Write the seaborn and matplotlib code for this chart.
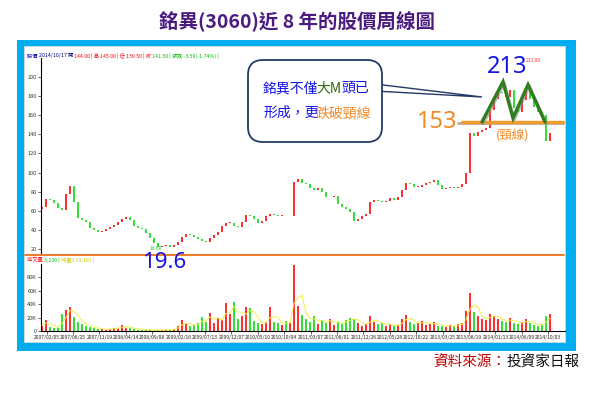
import matplotlib
matplotlib.use("Agg")
import matplotlib.pyplot as plt
import seaborn as sns
import numpy as np
import pandas as pd
from matplotlib.patches import Rectangle, FancyBboxPatch, Polygon

# ---------------- data (each point ~3 weeks) ----------------
closes = [64, 72, 71, 68, 63, 61, 78, 86, 69, 52, 50, 48, 42, 40, 38, 39, 41, 43, 45, 48,
          51, 53, 50, 44, 42, 41, 37, 31, 26, 22, 23, 24, 22, 24, 27, 32, 36, 35, 33, 30,
          28, 27, 31, 35, 38, 44, 47, 47, 44, 43, 48, 56, 54, 51, 47, 49, 54, 57, 56, 55,
          55, 54, 55, 90, 93, 89, 88, 84, 82, 84, 80, 74, 74, 75, 67, 64, 62, 59, 49, 51,
          54, 57, 69, 71, 70, 69, 70, 73, 71, 74, 82, 89, 88, 85, 85, 87, 89, 90, 92, 87,
          83, 84, 85, 84, 85, 88, 100, 141, 138, 142, 144, 147, 165, 177, 184, 183, 179, 186, 168, 163,
          176, 187, 177, 169, 163, 160, 133, 141.5]
first_open = 62
volumes_k = [8, 16, 6, 5, 4, 25, 31, 36, 21, 14, 10, 7, 6, 4, 3, 3, 2, 3, 5, 4,
             9, 5, 4, 3, 2, 2, 2, 1, 1, 2, 1, 2, 2, 3, 8, 16, 10, 7, 9, 12,
             21, 14, 27, 12, 20, 16, 42, 25, 43, 18, 22, 36, 34, 15, 12, 10, 14, 36, 14, 12,
             9, 15, 12, 98, 38, 24, 18, 14, 22, 10, 16, 12, 18, 9, 14, 11, 16, 20, 18, 12,
             8, 10, 22, 14, 10, 12, 8, 10, 7, 9, 18, 24, 14, 10, 12, 15, 9, 11, 13, 8,
             7, 6, 9, 7, 10, 12, 30, 57, 28, 22, 18, 16, 26, 22, 18, 15, 14, 20, 12, 10,
             14, 18, 12, 9, 8, 10, 22, 26]
date_labels = ["2007/02/05", "2007/06/25", "2007/11/19", "2008/04/14", "2008/09/08",
               "2009/02/16", "2009/07/13", "2009/12/07", "2010/05/10", "2010/10/04",
               "2011/03/07", "2011/08/01", "2011/12/26", "2012/05/28", "2012/10/22",
               "2013/03/25", "2013/08/19", "2014/01/13", "2014/06/09", "2014/10/03"]
price_ticks = [200, 180, 160, 140, 120, 100, 80, 60, 40, 20]
vol_ticks = [0, 20, 40, 60, 80]
vol_tick_labels = ["0", "20K", "40K", "60K", "80K"]
neckline = 153
m_x = [110.0, 115.25, 117.75, 121.5, 125.75]
m_y = [153, 195, 157, 192, 153]
high_label = "213"
low_label = "19.6"

W, H = 600, 393
sns.set_theme(style="white")
plt.rcParams['font.family'] = ['Noto Sans CJK TC', 'DejaVu Sans']

fig = plt.figure(figsize=(W / 100, H / 100), dpi=100)
fig.patch.set_facecolor("white")
renderer = fig.canvas.get_renderer()

def fx(x):
    return x / W

def fy(y):
    return 1 - y / H

# background frame
bg = fig.add_axes([0, 0, 1, 1], zorder=0)
bg.set_xlim(0, W); bg.set_ylim(H, 0); bg.axis("off")
bg.add_patch(Rectangle((17, 40), 559, 311, facecolor="#00adef", edgecolor="none"))
bg.add_patch(Rectangle((24, 46), 541, 296, facecolor="white", edgecolor="#d8d8d8", lw=0.6))

n = len(closes)
idx = np.arange(n)
opens = [first_open] + closes[:-1]
up = [c >= o for o, c in zip(opens, closes)]
col_up, col_dn = "#ff3030", "#33e033"
colors = [col_up if u else col_dn for u in up]

x_left = (41 - 42) / 4
x_right = (565 - 42) / 4

# price axes
axp = fig.add_axes([fx(41), fy(254), fx(565) - fx(41), fy(58) - fy(254)], zorder=1)
axp.patch.set_alpha(0)
bodies = np.array(closes) - np.array(opens)
bodies = np.where(np.abs(bodies) < 0.8, 0.8, bodies)
axp.bar(idx, bodies, bottom=opens, width=0.45, color=colors, edgecolor="none")
axp.set_xlim(x_left, x_right)
axp.set_ylim(14.7, 219.9)
axp.set_yticks(price_ticks)
axp.set_yticklabels([str(t) for t in price_ticks], fontsize=4, color="#333333")
axp.set_xticks([])
for s in ["top", "right", "bottom"]:
    axp.spines[s].set_visible(False)
axp.spines["left"].set_color("black"); axp.spines["left"].set_linewidth(0.8)
axp.tick_params(axis="y", length=2, width=0.5, pad=1, left=True)

# M head and neckline (data coords)
axp.plot([m_x[0] - 6, x_right - 0.5], [neckline - 1.5, neckline - 1.5], color="#9a9a9a", lw=2.2, alpha=0.7, zorder=3)
axp.plot([m_x[0] - 5, x_right - 0.5], [neckline, neckline], color="#f39a2b", lw=2.4, zorder=4)
axp.plot(np.array(m_x) + 0.3, np.array(m_y) - 1.5, color="#8c8c8c", lw=2.4, alpha=0.6, zorder=4)
axp.plot(m_x, m_y, color="#2f7d1c", lw=2.4, zorder=5, solid_joinstyle="miter")

# volume axes
axv = fig.add_axes([fx(41), fy(331), fx(565) - fx(41), fy(264) - fy(331)], zorder=1)
axv.patch.set_alpha(0)
axv.bar(idx, volumes_k, width=0.55, color=colors, edgecolor="none")
vol_ma = pd.Series(volumes_k).rolling(3, min_periods=1).mean()
sns.lineplot(x=idx, y=vol_ma.values, ax=axv, color="#f0f040", lw=0.7, zorder=3)
axv.set_xlim(x_left, x_right)
axv.set_ylim(0, 100)
axv.set_yticks(vol_ticks)
axv.set_yticklabels(vol_tick_labels, fontsize=4, color="#333333")
tick_pos = [(46.6 + 26.4 * k - 42) / 4 for k in range(len(date_labels))]
axv.set_xticks(tick_pos)
axv.set_xticklabels(date_labels, fontsize=3.6, color="#222222")
for s in ["top", "right"]:
    axv.spines[s].set_visible(False)
for s in ["left", "bottom"]:
    axv.spines[s].set_color("black"); axv.spines[s].set_linewidth(0.8)
axv.tick_params(axis="both", length=2, width=0.5, pad=1, left=True, bottom=True)

# overlay for annotations
ov = fig.add_axes([0, 0, 1, 1], zorder=5)
ov.set_xlim(0, W); ov.set_ylim(H, 0); ov.axis("off"); ov.patch.set_alpha(0)

def chain(parts, x0, y, size, gaps=None, **kw):
    x = x0
    for k, (t, c) in enumerate(parts):
        txt = ov.text(x, y, t, fontsize=size, color=c, va="center", ha="left", **kw)
        w = txt.get_window_extent(renderer).width
        x += w + (gaps[k] if gaps else 0.0)

# orange separator
ov.plot([25, 564], [255, 255], color="#f07a28", lw=1.4)

# title
ov.text(297, 22, "銘異(3060)近 8 年的股價周線圖", ha="center", va="center",
        fontsize=14, fontweight="bold", color="#4b1c80")

# header rows
chain([("股價 ", "#0000c0"), ("2014/10/17 開 ", "#000080"),
       ("144.00 | 高 145.00 | 低 139.50 | 收 ", "#ff0000"),
       ("141.50 | 漲跌 -3.50(-1.74%) |", "#00bb00")], 27, 56, 3.8)
chain([("成交量 ", "#ff0000"), ("3,230 | ", "#00bb00"), ("均量3 19,183 |", "#d0d000")],
      27, 260, 3.8)

# callout
ov.add_patch(Polygon([(375, 84), (482, 97), (375, 91)], closed=True, facecolor="white",
                     edgecolor="#233a66", lw=1.0))
ov.add_patch(FancyBboxPatch((248, 60), 134, 82, boxstyle="round,pad=0,rounding_size=15",
                            facecolor="white", edgecolor="#233a66", lw=1.3))
chain([("銘異不僅", "#1414e6"), ("大M", "#2b6a10"), ("頭已", "#1414e6")], 263, 88, 10,
      gaps=[-2.5, 0.5, 0], fontweight="medium")
chain([("形成，更", "#1414e6"), ("跌破頸線", "#f08a28")], 263, 113, 10,
      gaps=[-2.5, 0], fontweight="medium")

# value labels
ov.text(507, 67, high_label, fontsize=17, color="#1414e6", ha="center", va="center", family="Noto Sans")
ov.text(526, 60, "213.00", fontsize=3.5, color="#ff3030", ha="left", va="center")
ov.text(437, 122, "153", fontsize=17, color="#f08a28", ha="center", va="center", family="Noto Sans")
ov.text(513, 135, "(頸線)", fontsize=9, color="#f08a28", ha="center", va="center")
ov.text(164, 263, low_label, fontsize=16, color="#1414e6", ha="center", va="center", family="Noto Sans")
ov.text(150, 249, "19.60", fontsize=3.5, color="#22bb22", ha="left", va="center")

# source
chain([("資料來源：", "#c00000"), ("投資家日報", "#111111")], 433, 363, 10.5)

fig.savefig("out.png", dpi=100, facecolor="white")
